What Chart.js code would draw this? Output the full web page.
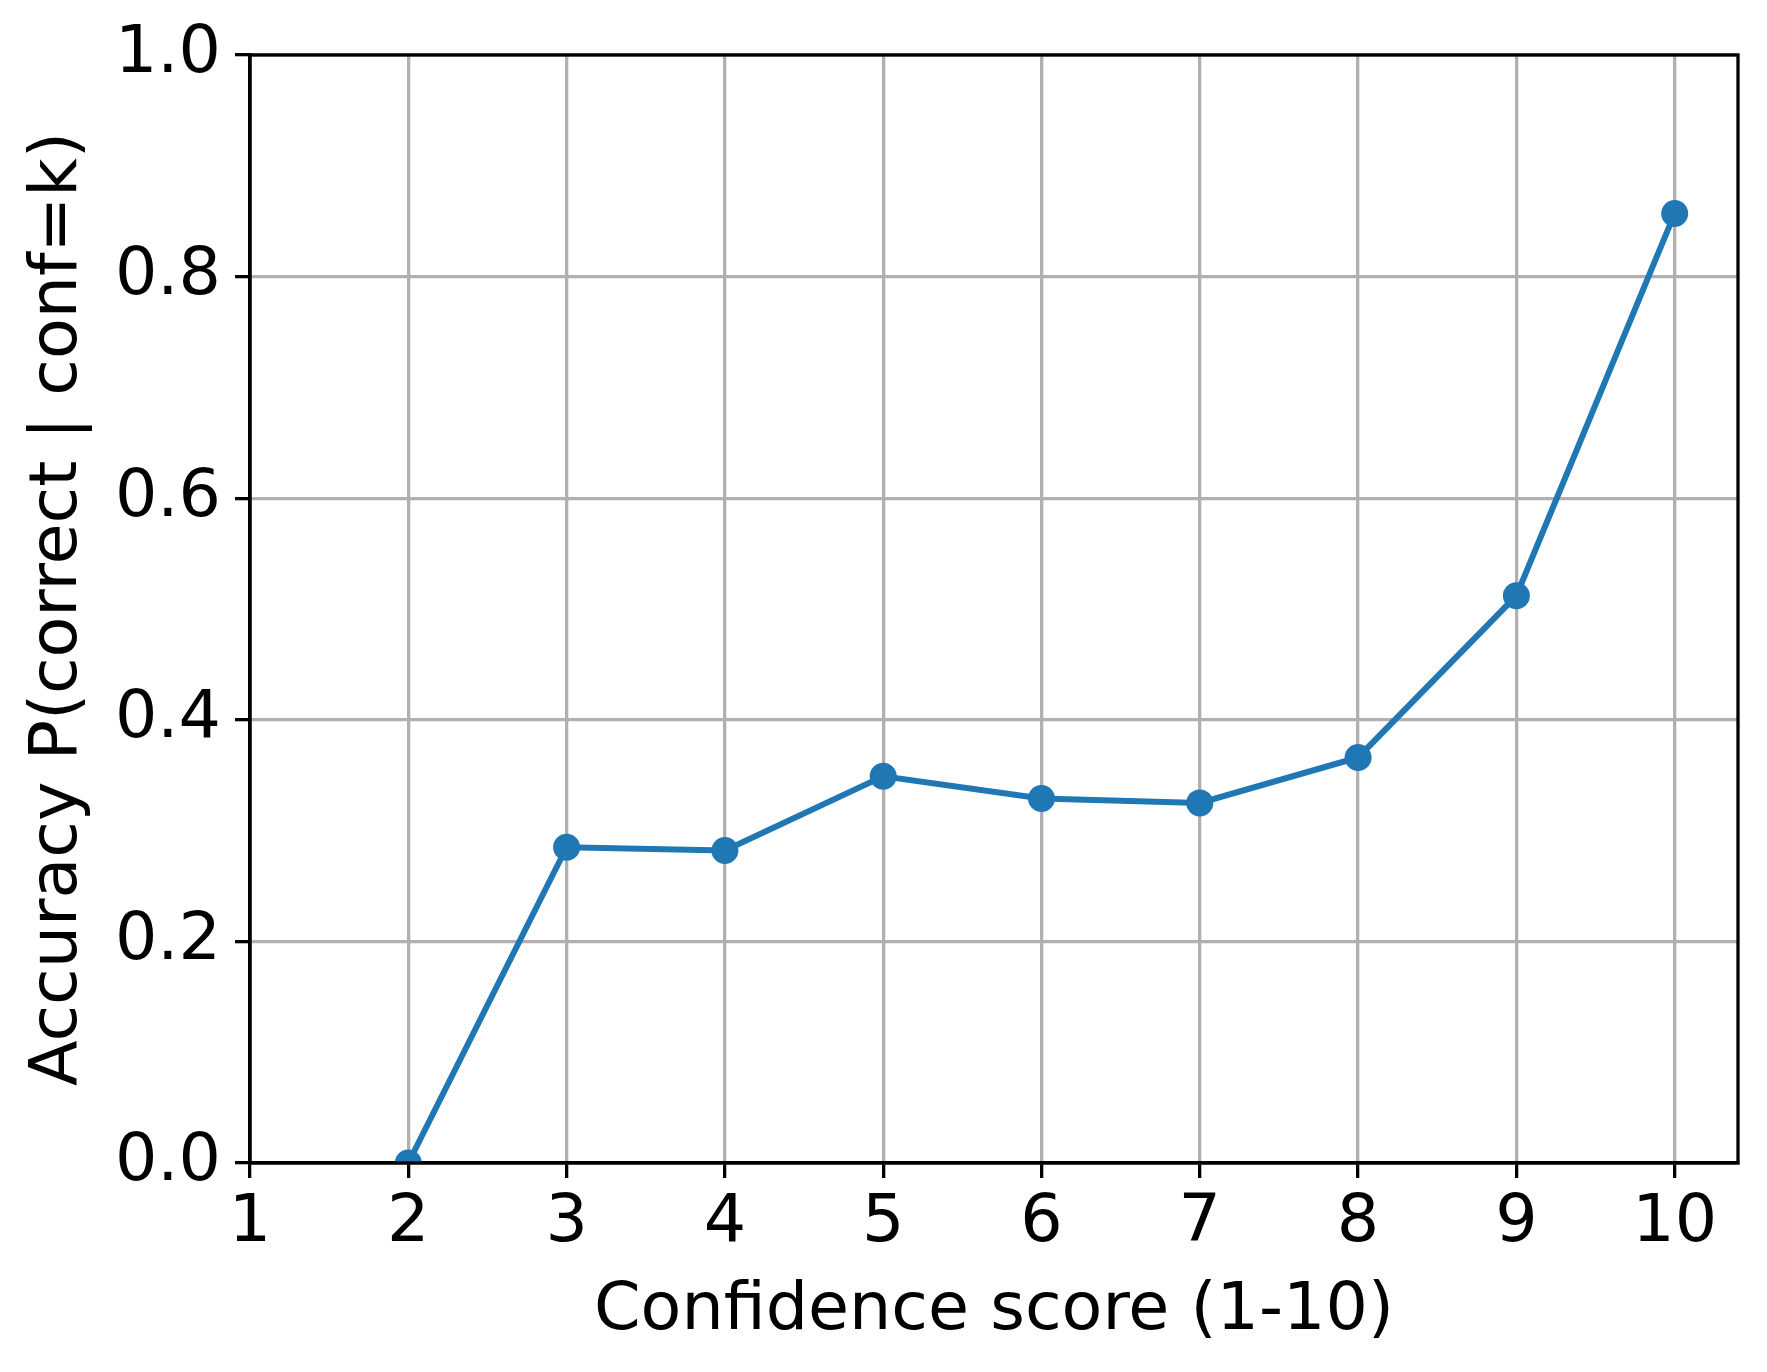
<!DOCTYPE html>
<html><head><meta charset="utf-8">
<script src="https://cdn.jsdelivr.net/npm/chart.js@4"></script>
<style>html,body{margin:0;padding:0;background:#fff}#c{display:block}</style>
</head><body>
<canvas id="c" width="1767" height="1372"></canvas>
<script>
const confScores = [2, 3, 4, 5, 6, 7, 8, 9, 10];
const accuracy = [0.0, 0.285, 0.282, 0.349, 0.329, 0.325, 0.366, 0.512, 0.857];
const xTicks = [1, 2, 3, 4, 5, 6, 7, 8, 9, 10];
const yTicks = [0.0, 0.2, 0.4, 0.6, 0.8, 1.0];
const xLabel = 'Confidence score (1-10)';
const yLabel = 'Accuracy P(correct | conf=k)';

const FONT = 'DejaVu Sans';
const FS = 66.7;
const LEFT = 250, TOP = 55, RIGHT = 1738, BOTTOM = 1163, W = 1767, H = 1372;

const frame = {
  id: 'frame',
  afterDraw(chart) {
    const {ctx, chartArea: a} = chart;
    ctx.save();
    ctx.strokeStyle = '#000';
    ctx.lineWidth = 3.3;
    ctx.strokeRect(a.left, a.top, a.right - a.left, a.bottom - a.top);
    ctx.fillStyle = '#000';
    ctx.font = FS + 'px "' + FONT + '"';
    ctx.textAlign = 'center';
    ctx.textBaseline = 'middle';
    ctx.fillText(xLabel, (a.left + a.right) / 2, 1312);
    ctx.translate(59, (a.top + a.bottom) / 2);
    ctx.rotate(-Math.PI / 2);
    ctx.fillText(yLabel, 0, 0);
    ctx.restore();
  }
};

new Chart(document.getElementById('c'), {
  type: 'line',
  data: {
    datasets: [{
      data: confScores.map((x, i) => ({x: x, y: accuracy[i]})),
      borderColor: '#1f77b4',
      backgroundColor: '#1f77b4',
      borderWidth: 6,
      pointRadius: 13.5,
      pointHoverRadius: 13.5,
      pointBorderWidth: 0,
      tension: 0,
      clip: 0
    }]
  },
  options: {
    responsive: false,
    animation: false,
    devicePixelRatio: 1,
    layout: {padding: {left: 0, top: TOP, right: W - RIGHT, bottom: 0}},
    plugins: {legend: {display: false}, tooltip: {enabled: false}},
    scales: {
      x: {
        type: 'linear',
        min: 1, max: 10.4,
        afterBuildTicks: s => { s.ticks = xTicks.map(v => ({value: v})); },
        afterFit: s => { s.height = H - BOTTOM; },
        ticks: {color: '#000', font: {family: FONT, size: FS}, padding: 6, maxRotation: 0, autoSkip: false,
                callback: v => String(v)},
        grid: {color: '#b0b0b0', lineWidth: 3.3, tickColor: '#000', tickWidth: 3.3, tickLength: 15, drawTicks: true},
        border: {display: true, color: '#000', width: 3.3}
      },
      y: {
        type: 'linear',
        min: 0, max: 1,
        afterBuildTicks: s => { s.ticks = yTicks.map(v => ({value: v})); },
        afterFit: s => { s.width = LEFT; },
        ticks: {color: '#000', font: {family: FONT, size: FS}, padding: 14, autoSkip: false,
                callback: v => Number(v).toFixed(1)},
        grid: {color: '#b0b0b0', lineWidth: 3.3, tickColor: '#000', tickWidth: 3.3, tickLength: 15, drawTicks: true},
        border: {display: true, color: '#000', width: 3.3}
      }
    }
  },
  plugins: [frame]
});
</script>
</body></html>
